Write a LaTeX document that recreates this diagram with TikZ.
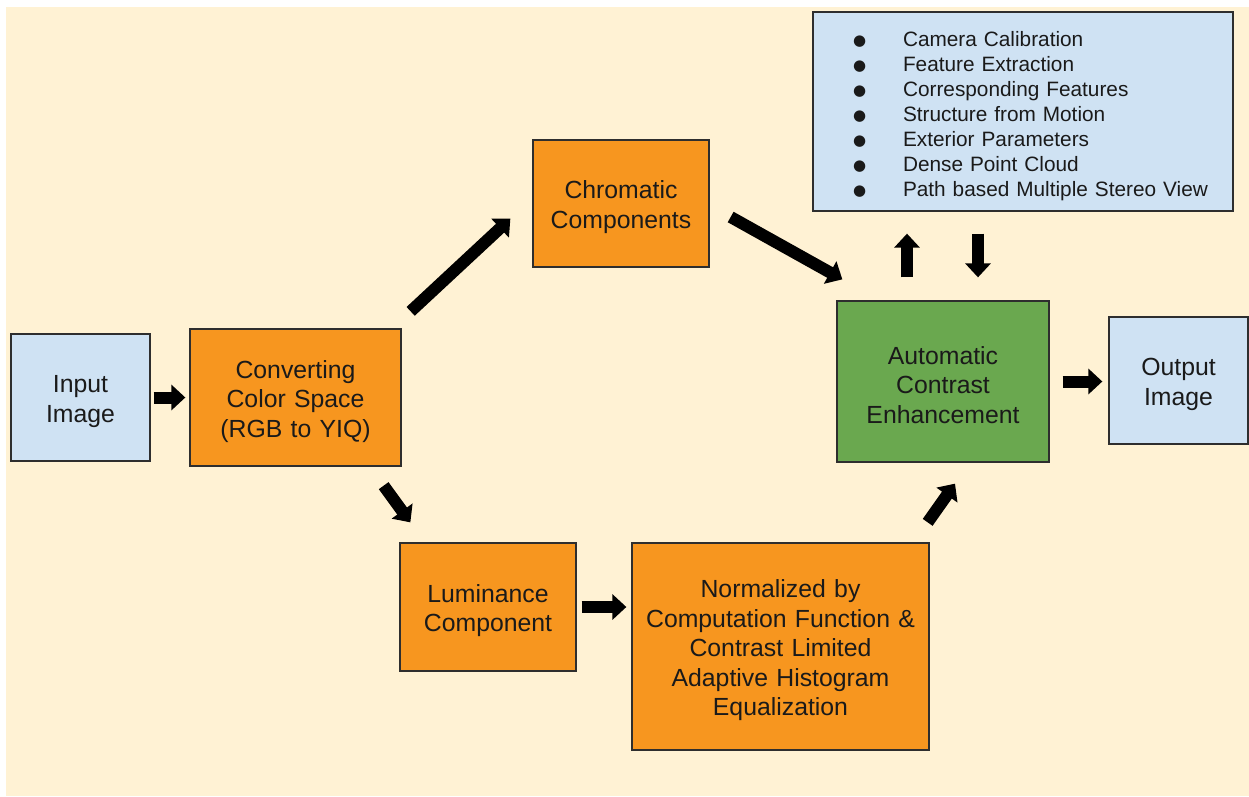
\documentclass[tikz,border=0pt]{standalone}
\usepackage{fontspec}
\setmainfont{Liberation Sans}
\newfontfamily\dejavu{DejaVu Sans}
\usetikzlibrary{arrows.meta,calc}
\definecolor{cream}{HTML}{FFF2D4}
\definecolor{orng}{HTML}{F7961F}
\definecolor{grn}{HTML}{6AA84F}
\definecolor{lblue}{HTML}{CFE2F3}
\definecolor{edge}{HTML}{2E2E2E}
\definecolor{ink}{HTML}{1A1A1A}
\newcommand{\bitem}[1]{\hspace*{40pt}\makebox[50pt][l]{\raisebox{1.5pt}{\dejavu\fontsize{15}{15}\selectfont ●}}#1}
\begin{document}
\begin{tikzpicture}[x=1pt,y=-1pt,
  box/.style={draw=edge, line width=1.3pt, inner sep=0pt, align=center, text=ink,
    font=\fontsize{24.8}{29.5}\selectfont, execute at begin node={\rule{0pt}{25.2pt}}},
  obox/.style={box, fill=orng},
  bbox/.style={box, fill=lblue},
  gbox/.style={box, fill=grn},
  sz/.style n args={2}{minimum width=#1pt, text width=#1pt, minimum height=#2pt}]
\tikzset{blk/.style={line width=12pt, black, -{Triangle[width=25pt,length=14pt]}}}
\useasboundingbox (0,0) rectangle (1249,796);
\fill[white] (0,0) rectangle (1249,796);
\fill[cream] (6,7) rectangle (1249,796);

\node[bbox, sz={139}{127}] (in) at (80.5,397.5) {Input\\Image};
\node[obox, sz={211}{137}] (conv) at (295.5,397.5) {Converting\\Color Space\\(RGB to YIQ)};
\node[obox, sz={176}{127}] (chrom) at (621,203.5) {Chromatic\\Components};
\node[bbox, sz={420}{199}, align=left,
  font=\fontsize{20.8}{25}\selectfont] (info) at (1023,111.5) {%
  \bitem{Camera Calibration}\\
  \bitem{Feature Extraction}\\
  \bitem{Corresponding Features}\\
  \bitem{Structure from Motion}\\
  \bitem{Exterior Parameters}\\
  \bitem{Dense Point Cloud}\\
  \bitem{Path based Multiple Stereo View}};
\node[gbox, sz={212}{161}] (ace) at (943,381.5) {Automatic\\Contrast\\Enhancement};
\node[bbox, sz={139}{127}] (out) at (1178.5,380.5) {Output\\Image};
\node[obox, sz={176}{128}] (lum) at (488,607) {Luminance\\Component};
\node[obox, sz={297}{207}] (norm) at (780.5,646.5) {Normalized by\\Computation Function \&\\Contrast Limited\\Adaptive Histogram\\Equalization};

\draw[blk] ($(in.east)+(3,0)$) -- ($(in.east -| conv.west)+(-4,0)$);
\draw[blk] ($(conv.north east)+(9,-17)$) -- ($(chrom.south west)+(-22,-49)$);
\draw[blk] ($(chrom.east)+(21,13.5)$) -- ($(ace.north west)+(6,-21)$);
\draw[blk] ($(ace.north)+(-36,-23)$) -- ($(info.south)+(-116,22)$);
\draw[blk] ($(info.south)+(-45,22)$) -- ($(ace.north)+(35,-23)$);
\draw[blk] ($(conv.south east)+(-18,19)$) -- ($(lum.north west)+(11,-20)$);
\draw[blk] ($(lum.east)+(5,0)$) -- ($(lum.east -| norm.west)+(-5,0)$);
\draw[blk] ($(norm.north east)+(-2,-20)$) -- ($(ace.south)+(12,21)$);
\draw[blk] ($(ace.east)+(13,0)$) -- ($(ace.east -| out.west)+(-6,0)$);
\end{tikzpicture}
\end{document}
